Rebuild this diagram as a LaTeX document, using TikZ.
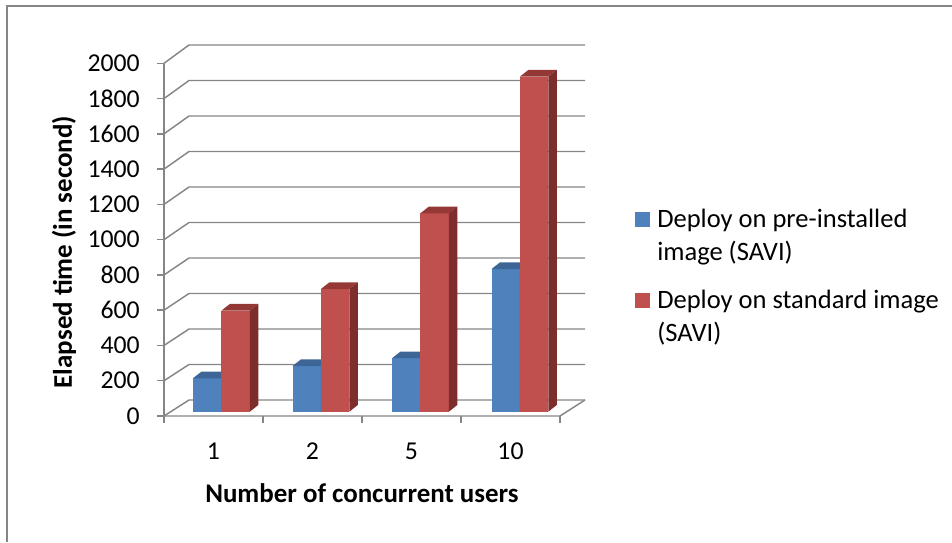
\documentclass[tikz,border=0pt]{standalone}
\usepackage{fontspec}
\setmainfont{Carlito}
\definecolor{gridgray}{HTML}{868686}
\definecolor{serAfront}{HTML}{4F81BD}
\definecolor{serAtop}{HTML}{3D6596}
\definecolor{serBfront}{HTML}{C0504D}
\definecolor{serBtop}{HTML}{943835}
\definecolor{serBside}{HTML}{7D2E2C}
% one 3-D column: left x, value, front / top / side colours
\newcommand{\drawcol}[5]{%
  \pgfmathsetmacro\coltop{411.7-0.177*#2}%
  \fill[#3] (#1,411.7) rectangle (#1+28.4,\coltop);
  \fill[#4] (#1,\coltop) -- (#1+8.5,\coltop-6.7) -- (#1+36.9,\coltop-6.7) -- (#1+28.4,\coltop) -- cycle;
  \fill[#5] (#1+28.4,411.7) -- (#1+28.4,\coltop) -- (#1+36.9,\coltop-6.7) -- (#1+36.9,405) -- cycle;
}
\begin{document}
\begin{tikzpicture}[x=0.75pt,y=-0.75pt,
  grid/.style={draw=gridgray, line width=1.1pt},
  frameline/.style={draw=gridgray, line width=1.5pt},
  ticklab/.style={anchor=east, inner sep=0pt, font=\fontsize{19.3}{23}\selectfont},
  catlab/.style={inner sep=0pt, font=\fontsize{19.3}{23}\selectfont},
  axtitle/.style={inner sep=0pt, font=\fontsize{20.2}{24}\selectfont\bfseries},
  legtext/.style={anchor=base west, align=left, inner sep=0pt, font=\fontsize{19.9}{24.75}\selectfont}]
\useasboundingbox (0,0) rectangle (952,542);

% outer chart frame (left and top edges)
\draw[frameline] (7,542) -- (7,6.5) -- (952,6.5);

% back wall, side wall and value labels
\foreach \k in {0,...,10} {
  \pgfmathsetmacro\yf{416-35.27*\k}
  \pgfmathsetmacro\yb{400-35.5*\k}
  \draw[grid] (164,\yf) -- (189,\yb) -- (585,\yb);
  \draw[grid] (157,\yf) -- (164,\yf);
  \node[ticklab] (y\k) at (140,\yf) {\number\numexpr200*\k\relax};
}

% floor edge, value axis and category ticks
\draw[grid] (164,416) -- (560,416) -- (585,400);
\draw[grid] (164,63.3) -- (164,423);
\foreach \x in {263,362,461,560} \draw[grid] (\x,416) -- (\x,423);

% columns
\foreach \i/\va/\vb in {0/189/571, 1/258/693, 2/302/1121, 3/806/1893} {
  \pgfmathsetmacro\gx{193+99.5*\i}
  \drawcol{\gx}{\va}{serAfront}{serAtop}{serAtop}
  \drawcol{\gx+28.4}{\vb}{serBfront}{serBtop}{serBside}
}

% category labels
\node[catlab] (c1) at (213.5,451) {1};
\node[catlab] (c2) at (312.5,451) {2};
\node[catlab] (c3) at (411.5,451) {5};
\node[catlab] (c4) at (510.5,451) {10};

% axis titles
\node[axtitle] (xt) at (362,493) {Number of concurrent users};
\node[axtitle, rotate=90] (yt) at (64,252) {Elapsed time (in second)};

% legend (node base = baseline of the last line)
\fill[serAfront] (635,212) rectangle (650,227);
\node[legtext] (la) at (657,260.3) {Deploy on pre-installed\\image (SAVI)};
\fill[serBfront] (635,293) rectangle (650,308);
\node[legtext] (lb) at (657,341.3) {Deploy on standard image\\(SAVI)};
\end{tikzpicture}
\end{document}
